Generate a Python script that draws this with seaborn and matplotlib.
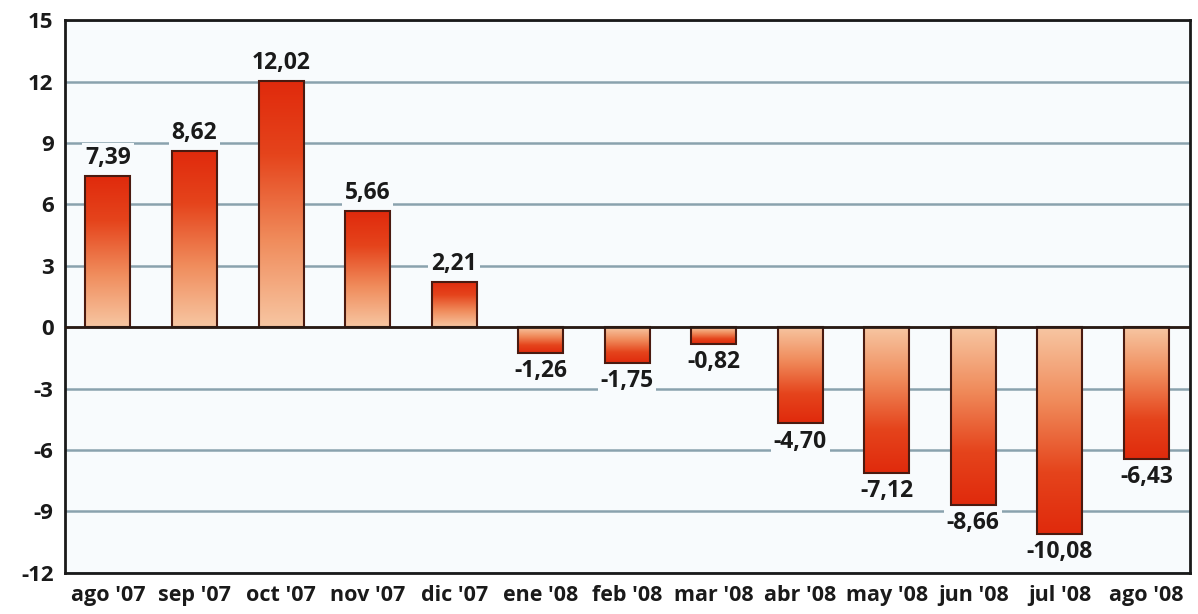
import numpy as np
import pandas as pd
import matplotlib
matplotlib.use("Agg")
import matplotlib.pyplot as plt
import seaborn as sns
from matplotlib.colors import LinearSegmentedColormap

# data
months = ["ago '07", "sep '07", "oct '07", "nov '07", "dic '07", "ene '08", "feb '08",
          "mar '08", "abr '08", "may '08", "jun '08", "jul '08", "ago '08"]
values = [7.39, 8.62, 12.02, 5.66, 2.21, -1.26, -1.75, -0.82, -4.70, -7.12, -8.66, -10.08, -6.43]
labels = ["7,39", "8,62", "12,02", "5,66", "2,21", "-1,26", "-1,75", "-0,82",
          "-4,70", "-7,12", "-8,66", "-10,08", "-6,43"]

df = pd.DataFrame({"mes": months, "valor": values})

sns.set_theme(style="white")
plt.rcParams["font.family"] = ["Open Sans", "DejaVu Sans"]
plt.rcParams["axes.unicode_minus"] = False

fig, ax = plt.subplots(figsize=(11.98, 6.14), dpi=100)
fig.subplots_adjust(left=0.054, right=0.993, top=0.967, bottom=0.067)

sns.barplot(data=df, x="mes", y="valor", color="#e33a14", width=0.52,
            edgecolor="#4a1a10", linewidth=1.5, ax=ax, zorder=3)

ax.set_facecolor("#f8fbfd")
ax.set_ylim(-12, 15)
ax.set_xlim(-0.5, 12.5)
ax.set_yticks(range(-12, 16, 3))
ax.yaxis.grid(True, color="#8aa2ae", linewidth=1.8, zorder=0)
ax.set_axisbelow(True)
for s in ax.spines.values():
    s.set_color("#1a1a1a")
    s.set_linewidth(2)
ax.axhline(0, color="#2a1a14", linewidth=2, zorder=4)
ax.set_xlabel("")
ax.set_ylabel("")
ax.tick_params(axis="x", length=0, pad=9, labelsize=15.5)
ax.tick_params(axis="y", length=0, pad=8, labelsize=16)
for t in ax.get_xticklabels() + ax.get_yticklabels():
    t.set_fontweight("bold")
    t.set_color("#1a1a1a")

# gradient fill: light near zero, dark red at the bar tip
cmap = LinearSegmentedColormap.from_list(
    "g", [(0, "#f7c6a2"), (0.35, "#f08c5c"), (0.7, "#e5441c"), (1, "#e02a0c")])
grad = np.linspace(0, 1, 256).reshape(-1, 1)
for bar, v in zip(ax.patches, values):
    x0 = bar.get_x()
    w = bar.get_width()
    img = grad if v > 0 else grad[::-1]
    im = ax.imshow(img, cmap=cmap, aspect="auto", origin="lower",
                   extent=[x0, x0 + w, 0, v] if v > 0 else [x0, x0 + w, v, 0],
                   zorder=3.5)
    im.set_clip_path(bar)
    bar.set_facecolor("none")
    bar.set_zorder(3.6)

for i, (v, lab) in enumerate(zip(values, labels)):
    off = 0.3 if v > 0 else -0.3
    ax.text(i, v + off, lab, ha="center", va="bottom" if v > 0 else "top",
            fontsize=16.5, fontweight="bold", color="#1a1a1a", zorder=5,
            bbox=dict(boxstyle="square,pad=0.12", facecolor="#f8fbfd", edgecolor="none"))

fig.savefig("out.png", dpi=100)
